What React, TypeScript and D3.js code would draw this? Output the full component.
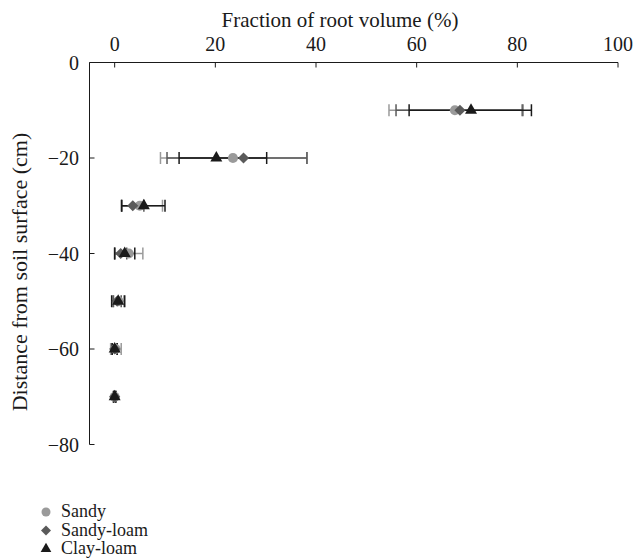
import React from 'react';
import * as d3 from 'd3';

// depth of each sampling layer (cm below surface)
const depths = [-10, -20, -30, -40, -50, -60, -70];

const seriesNames = ['Sandy', 'Sandy-loam', 'Clay-loam'];

// mean fraction of root volume (%)
const sandy = [67.6, 23.5, 5.0, 2.8, 0.8, 0.2, 0.0];
const sandyLoam = [68.6, 25.6, 3.6, 1.2, 0.5, 0.0, 0.0];
const clayLoam = [70.8, 20.2, 5.8, 2.0, 0.7, 0.0, 0.0];

// error bar lengths (minus / plus)
const sandyErrMinus = [13.1, 14.4, 3.7, 2.8, 1.0, 1.0, 0.3];
const sandyErrPlus = [13.3, 14.7, 4.5, 2.8, 1.0, 1.1, 0.3];
const sandyLoamErrMinus = [12.7, 15.2, 2.2, 1.2, 0.8, 0.5, 0.2];
const sandyLoamErrPlus = [12.5, 12.6, 2.2, 1.2, 0.8, 0.5, 0.2];
const clayLoamErrMinus = [12.3, 7.4, 4.4, 2.0, 1.3, 0.5, 0.2];
const clayLoamErrPlus = [12.0, 10.0, 4.2, 2.0, 1.3, 0.5, 0.2];

const xTicks = [0, 20, 40, 60, 80, 100];
const yTicks = [0, -20, -40, -60, -80];

const font = 'Liberation Serif';
const ink = '#1a1a1a';

const series = [
    { name: seriesNames[0], values: sandy, lo: sandyErrMinus, hi: sandyErrPlus, color: '#9a9a9a', symbol: d3.symbolCircle, size: 80, rot: 0 },
    { name: seriesNames[1], values: sandyLoam, lo: sandyLoamErrMinus, hi: sandyLoamErrPlus, color: '#5a5a5a', symbol: d3.symbolSquare, size: 62, rot: 45 },
    { name: seriesNames[2], values: clayLoam, lo: clayLoamErrMinus, hi: clayLoamErrPlus, color: ink, symbol: d3.symbolTriangle, size: 62, rot: 0 },
];

function App() {
    const width = 635;
    const height = 560;

    const x = d3.scaleLinear().domain([-5, 100]).range([89.5, 618]);
    const y = d3.scaleLinear().domain([-80, 0]).range([444.5, 62.5]);

    const txt = (size: number) => ({ fontFamily: font, fontSize: size + 'px', fill: ink });

    return (
        <svg width={width} height={height} style={{ position: 'absolute', left: 0, top: 0 }}>
            {/* axes */}
            <line x1={x(-5)} x2={x(100)} y1={y(0)} y2={y(0)} stroke={ink} />
            <line x1={x(-5)} x2={x(-5)} y1={y(0)} y2={y(-80)} stroke={ink} />

            {xTicks.map(t => (
                <g key={'x' + t}>
                    <line x1={x(t)} x2={x(t)} y1={y(0)} y2={y(0) + 5} stroke={ink} />
                    <text x={x(t)} y={51} textAnchor="middle" style={txt(20)}>{t}</text>
                </g>
            ))}
            {yTicks.map(t => (
                <g key={'y' + t}>
                    <line x1={x(-5)} x2={x(-5) + 5} y1={y(t)} y2={y(t)} stroke={ink} />
                    <text x={79} y={y(t) + 7} textAnchor="end" style={txt(20)}>
                        {String(t).replace('-', '\u2212')}
                    </text>
                </g>
            ))}

            <text x={340} y={27} textAnchor="middle" style={txt(21)}>Fraction of root volume (%)</text>
            <text transform="translate(27,272) rotate(-90)" textAnchor="middle" style={txt(22)}>
                Distance from soil surface (cm)
            </text>

            {/* error bars */}
            {series.map(s => (
                <g key={'err' + s.name} stroke={s.color} strokeWidth={1.5}>
                    {depths.map((d, i) => {
                        const lo = x(s.values[i] - s.lo[i]);
                        const hi = x(s.values[i] + s.hi[i]);
                        const cy = y(d);
                        return (
                            <g key={d}>
                                <line x1={lo} x2={hi} y1={cy} y2={cy} />
                                <line x1={lo} x2={lo} y1={cy - 6} y2={cy + 6} />
                                <line x1={hi} x2={hi} y1={cy - 6} y2={cy + 6} />
                            </g>
                        );
                    })}
                </g>
            ))}

            {/* markers */}
            {series.map(s => {
                const path = d3.symbol().type(s.symbol).size(s.size)() as string;
                return (
                    <g key={'pt' + s.name} fill={s.color}>
                        {depths.map((d, i) => (
                            <path key={d} d={path}
                                transform={'translate(' + x(s.values[i]) + ',' + y(d) + ') rotate(' + s.rot + ')'} />
                        ))}
                    </g>
                );
            })}

            {/* legend */}
            {series.map((s, i) => {
                const ly = 512 + i * 18.5;
                const path = d3.symbol().type(s.symbol).size(s.size * 0.8)() as string;
                return (
                    <g key={'lg' + s.name}>
                        <path d={path} fill={s.color} transform={'translate(46,' + ly + ') rotate(' + s.rot + ')'} />
                        <text x={61} y={ly + 5} style={txt(18)}>{s.name}</text>
                    </g>
                );
            })}
        </svg>
    );
}

export default App;
